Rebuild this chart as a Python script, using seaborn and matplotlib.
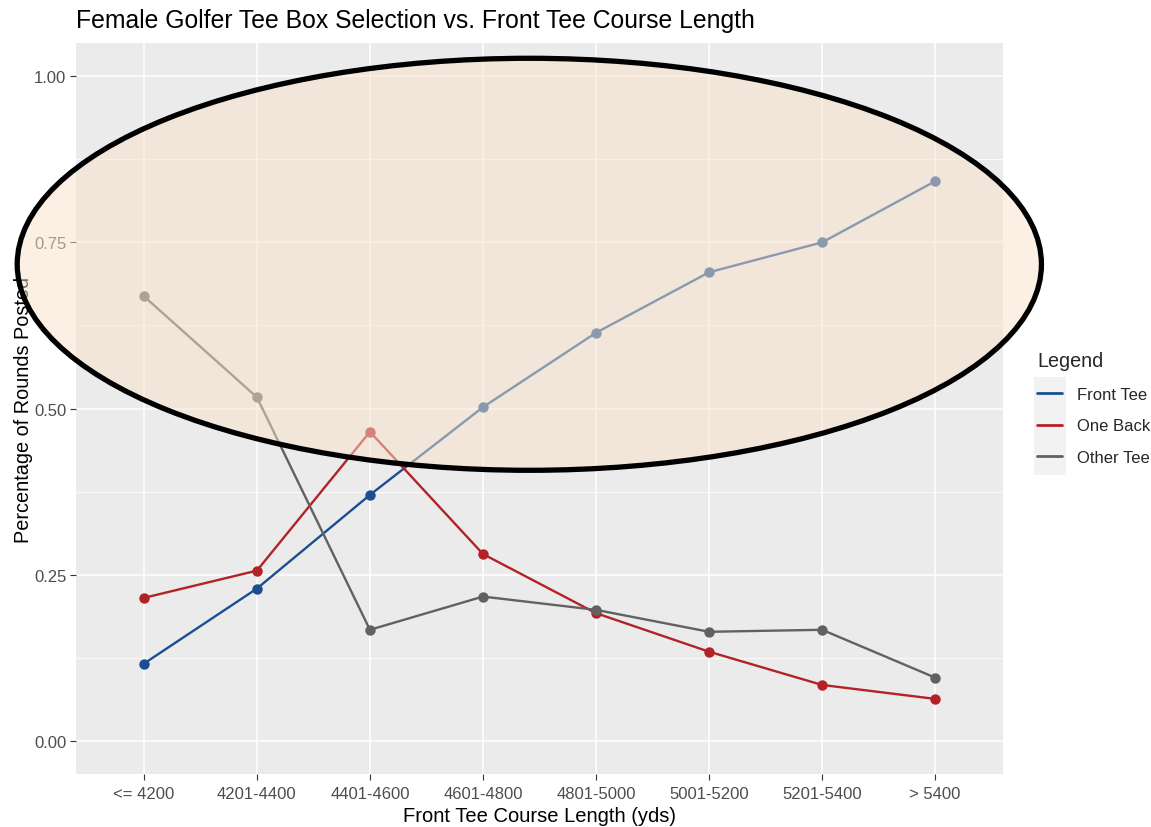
import matplotlib
matplotlib.use("Agg")
import matplotlib.pyplot as plt
import seaborn as sns
import pandas as pd
import numpy as np
from matplotlib.patches import Ellipse, Rectangle
from matplotlib.lines import Line2D

categories = ["<= 4200", "4201-4400", "4401-4600", "4601-4800",
              "4801-5000", "5001-5200", "5201-5400", "> 5400"]
front_tee = [0.116, 0.229, 0.370, 0.502, 0.614, 0.705, 0.750, 0.842]
one_back = [0.215, 0.256, 0.465, 0.281, 0.192, 0.134, 0.084, 0.063]
other_tee = [0.669, 0.517, 0.167, 0.217, 0.197, 0.164, 0.167, 0.095]
series_names = ["Front Tee", "One Back", "Other Tee"]
colors = {"Front Tee": "#1B4F8F", "One Back": "#B22226", "Other Tee": "#616161"}

rows = []
for name, vals in zip(series_names, [front_tee, one_back, other_tee]):
    for i, (c, v) in enumerate(zip(categories, vals)):
        rows.append({"pos": i, "category": c, "value": v, "Legend": name})
df = pd.DataFrame(rows)

sns.set_theme(style="darkgrid")
plt.rcParams['font.family'] = ['Liberation Sans', 'DejaVu Sans']

fig = plt.figure(figsize=(11.51, 8.28), dpi=100)
ax = fig.add_axes([76/1151, 1-775/828, (1003-76)/1151, (775-44)/828])
ax.set_facecolor("#EBEBEB")
fig.patch.set_facecolor("white")

sns.lineplot(data=df, x="pos", y="value", hue="Legend", palette=colors,
             hue_order=series_names, marker="o", markersize=7.5,
             markeredgewidth=0, linewidth=1.7, sort=False, legend=False, ax=ax)

ax.set_xlim(-0.6, 7.6)
ax.set_ylim(-0.05, 1.05)
ax.set_xticks(range(len(categories)))
ax.set_xticklabels(categories)
ax.set_yticks([0, 0.25, 0.5, 0.75, 1.0])
ax.set_yticklabels(["0.00", "0.25", "0.50", "0.75", "1.00"])
ax.set_yticks([0.125, 0.375, 0.625, 0.875], minor=True)
ax.grid(which="major", color="white", linewidth=1.1)
ax.grid(which="minor", axis="y", color="white", linewidth=0.55)
ax.grid(which="minor", axis="x", visible=False)
for s in ax.spines.values():
    s.set_visible(False)
ax.tick_params(axis="both", which="major", length=4, width=0.8, color="#333333",
               labelcolor="#4D4D4D", labelsize=12, bottom=True, left=True)
ax.tick_params(axis="x", which="major", pad=5)
ax.tick_params(axis="y", which="major", pad=3)
ax.tick_params(axis="both", which="minor", length=0)

ax.set_xlabel("Front Tee Course Length (yds)", fontsize=14.5, color="black", labelpad=3)
ax.set_ylabel("Percentage of Rounds Posted", fontsize=14.3, color="black", labelpad=1)
fig.text(76/1151, 1-21/828, "Female Golfer Tee Box Selection vs. Front Tee Course Length",
         fontsize=17.8, ha="left", va="center", color="black")

fig.add_artist(Rectangle((1034/1151, 1-476/828), 32/1151, 98/828,
                         transform=fig.transFigure, facecolor="#F2F2F2",
                         edgecolor="none", zorder=0))
handles = [Line2D([0], [0], color=colors[n], lw=2) for n in series_names]
leg = fig.legend(handles, series_names, title="Legend", loc="upper left",
                 bbox_to_anchor=(1022/1151, 1-337/828), frameon=False,
                 fontsize=12, title_fontsize=14.2, handlelength=1.5,
                 handletextpad=0.9, labelspacing=1.0)
leg._legend_box.align = "left"
leg.set_zorder(5)

ell = Ellipse((3.41, 0.717), width=9.06, height=0.62, transform=ax.transData,
              facecolor=(0.98, 0.89, 0.80, 0.5), edgecolor="black",
              linewidth=3.8, clip_on=False, zorder=20)
ax.add_artist(ell)

fig.savefig("out.png", dpi=100)
